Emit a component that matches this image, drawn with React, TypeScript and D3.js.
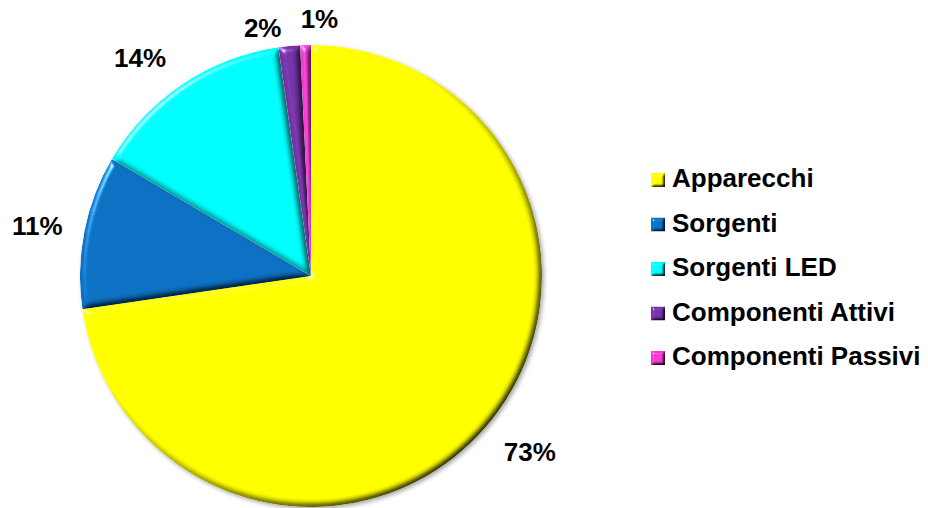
import React from "react";
import * as d3 from "d3";

const categories = ["Apparecchi", "Sorgenti", "Sorgenti LED", "Componenti Attivi", "Componenti Passivi"];
const shares = [72.7, 10.75, 14.3, 1.5, 0.75];
const labels = ["73%", "11%", "14%", "2%", "1%"];
const colors = ["#FFFF00", "#0A70C2", "#00FFFF", "#7432A6", "#F03AD0"];

// layout (not data)
const W = 928;
const H = 508;
const CX = 311;
const CY = 276;
const R = 231;
const LABEL_R = 280;
const labelNudge: [number, number][] = [
  [7, -7],
  [1, 4],
  [-15, 14],
  [-22, 31],
  [15, 23],
];
const FONT = "'Liberation Sans', Arial, Helvetica, sans-serif";

function BevelFilter({ id, blur, scale }: { id: string; blur: number; scale: number }) {
  return (
    <filter id={id} x="-10%" y="-10%" width="120%" height="120%" colorInterpolationFilters="sRGB">
      <feGaussianBlur in="SourceAlpha" stdDeviation={blur} result="blur" />
      <feDiffuseLighting in="blur" surfaceScale={scale} diffuseConstant={1.414} lightingColor="#ffffff" result="diff">
        <feDistantLight azimuth={225} elevation={45} />
      </feDiffuseLighting>
      <feComposite in="diff" in2="SourceAlpha" operator="in" result="diffIn" />
      <feComposite in="SourceGraphic" in2="diffIn" operator="arithmetic" k1={1} k2={0} k3={0} k4={0} result="shaded" />
      <feSpecularLighting in="blur" surfaceScale={scale} specularConstant={0.7} specularExponent={60} lightingColor="#ffffff" result="spec">
        <feDistantLight azimuth={225} elevation={45} />
      </feSpecularLighting>
      <feComposite in="spec" in2="SourceAlpha" operator="in" result="specIn" />
      <feComposite in="shaded" in2="specIn" operator="arithmetic" k1={0} k2={1} k3={1} k4={0} />
    </filter>
  );
}

export default function App() {
  const pie = d3
    .pie<number>()
    .sort(null)
    .value((d) => d)
    .startAngle(0)
    .endAngle(2 * Math.PI);
  const arcs = pie(shares);
  const arcGen = d3.arc<d3.PieArcDatum<number>>().innerRadius(0).outerRadius(R);
  const labelArc = d3.arc<d3.PieArcDatum<number>>().innerRadius(LABEL_R).outerRadius(LABEL_R);

  const legendX = 651;
  const legendY0 = 187;
  const legendStep = 44.5;
  const sq = 14;

  return (
    <svg
      width={W}
      height={H}
      viewBox={`0 0 ${W} ${H}`}
      style={{ position: "absolute", left: 0, top: 0, background: "#fff" }}
    >
      <defs>
        <BevelFilter id="bevel" blur={3} scale={3} />
        <BevelFilter id="bevelSmall" blur={1.5} scale={2} />
        <filter id="shadow" x="-10%" y="-10%" width="125%" height="125%">
          <feDropShadow dx={2} dy={2} stdDeviation={2} floodColor="#000" floodOpacity={0.35} />
        </filter>
      </defs>

      <g transform={`translate(${CX},${CY})`}>
        <g filter="url(#shadow)">
          {arcs.map((a, i) => (
            <path key={categories[i]} d={arcGen(a) || ""} fill={colors[i]} filter="url(#bevel)" />
          ))}
        </g>
        {arcs.map((a, i) => {
          const [x, y] = labelArc.centroid(a);
          return (
            <text
              key={"l" + i}
              x={x + labelNudge[i][0]}
              y={y + labelNudge[i][1]}
              dy="0.35em"
              textAnchor="middle"
              fontFamily={FONT}
              fontWeight="bold"
              fontSize={26}
              fill="#000"
            >
              {labels[i]}
            </text>
          );
        })}
      </g>

      <g>
        {categories.map((c, i) => {
          const by = legendY0 + i * legendStep;
          return (
            <g key={"lg" + c}>
              <rect x={legendX} y={by - sq} width={sq} height={sq} fill={colors[i]} filter="url(#bevelSmall)" />
              <text
                x={legendX + 21}
                y={by}
                fontFamily={FONT}
                fontWeight="bold"
                fontSize={26}
                fill="#000"
              >
                {c}
              </text>
            </g>
          );
        })}
      </g>
    </svg>
  );
}
